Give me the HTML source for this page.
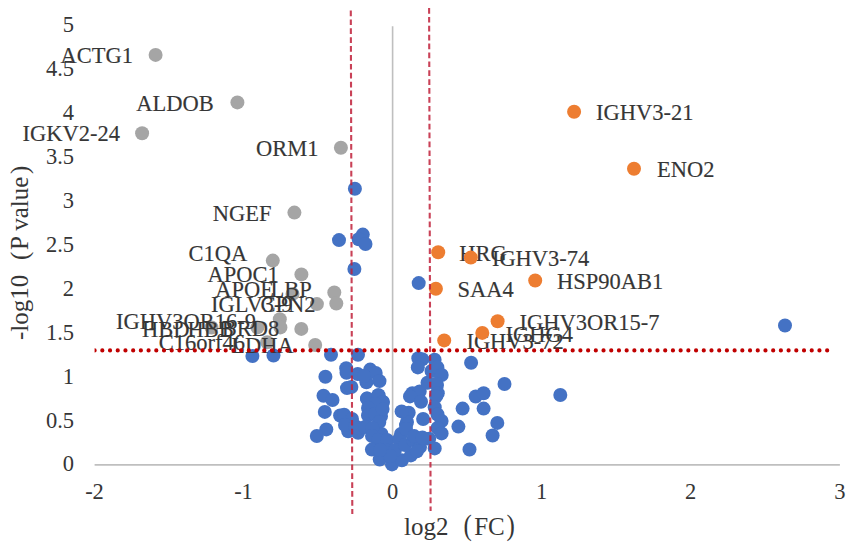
<!DOCTYPE html>
<html><head><meta charset="utf-8"><style>
html,body{margin:0;padding:0;background:#fff;}
body{width:851px;height:548px;position:relative;overflow:hidden;}
</style></head><body>
<svg width="851" height="548" viewBox="0 0 851 548" style="position:absolute;left:0;top:0">
<rect width="851" height="548" fill="#fff"/>
<line x1="94.6" y1="464.8" x2="839.9" y2="464.8" stroke="#BFBFBF" stroke-width="1.8"/>
<line x1="392.6" y1="26.3" x2="392.6" y2="464.8" stroke="#BFBFBF" stroke-width="1.6"/>
<g font-family="Liberation Serif" font-size="22.5" fill="#363636">
<text x="74.0" y="471.4" text-anchor="end">0</text>
<text x="74.0" y="427.5" text-anchor="end">0.5</text>
<text x="74.0" y="383.6" text-anchor="end">1</text>
<text x="74.0" y="339.7" text-anchor="end">1.5</text>
<text x="74.0" y="295.8" text-anchor="end">2</text>
<text x="74.0" y="251.9" text-anchor="end">2.5</text>
<text x="74.0" y="208.0" text-anchor="end">3</text>
<text x="74.0" y="164.1" text-anchor="end">3.5</text>
<text x="74.0" y="120.2" text-anchor="end">4</text>
<text x="74.0" y="76.3" text-anchor="end">4.5</text>
<text x="74.0" y="32.4" text-anchor="end">5</text>
<text x="94.5" y="499.1" text-anchor="middle">-2</text>
<text x="243.5" y="499.1" text-anchor="middle">-1</text>
<text x="392.6" y="499.1" text-anchor="middle">0</text>
<text x="541.7" y="499.1" text-anchor="middle">1</text>
<text x="690.7" y="499.1" text-anchor="middle">2</text>
<text x="839.8" y="499.1" text-anchor="middle">3</text>
</g>
<g fill="#4472C4">
<circle cx="354.9" cy="188.8" r="7.0"/>
<circle cx="339.0" cy="240.1" r="7.0"/>
<circle cx="362.8" cy="234.6" r="7.0"/>
<circle cx="358.7" cy="239.2" r="7.0"/>
<circle cx="365.5" cy="244.0" r="7.0"/>
<circle cx="354.4" cy="269.0" r="7.0"/>
<circle cx="418.7" cy="283.1" r="7.0"/>
<circle cx="785.0" cy="325.5" r="7.0"/>
<circle cx="560.3" cy="395.0" r="7.0"/>
<circle cx="331.0" cy="354.8" r="7.0"/>
<circle cx="358.0" cy="354.8" r="7.0"/>
<circle cx="252.4" cy="356.0" r="7.0"/>
<circle cx="273.5" cy="355.5" r="7.0"/>
<circle cx="418.3" cy="358.3" r="7.0"/>
<circle cx="422.2" cy="359.2" r="7.0"/>
<circle cx="417.8" cy="367.4" r="7.0"/>
<circle cx="434.6" cy="359.7" r="7.0"/>
<circle cx="471.1" cy="362.8" r="7.0"/>
<circle cx="504.5" cy="384.0" r="7.0"/>
<circle cx="346.2" cy="368.2" r="7.0"/>
<circle cx="346.5" cy="372.8" r="7.0"/>
<circle cx="325.4" cy="376.7" r="7.0"/>
<circle cx="347.0" cy="388.1" r="7.0"/>
<circle cx="351.4" cy="387.0" r="7.0"/>
<circle cx="323.5" cy="395.8" r="7.0"/>
<circle cx="332.5" cy="400.0" r="7.0"/>
<circle cx="324.8" cy="411.9" r="7.0"/>
<circle cx="340.1" cy="415.5" r="7.0"/>
<circle cx="326.3" cy="429.4" r="7.0"/>
<circle cx="316.8" cy="436.0" r="7.0"/>
<circle cx="357.7" cy="374.0" r="7.0"/>
<circle cx="370.2" cy="369.6" r="7.0"/>
<circle cx="375.7" cy="372.9" r="7.0"/>
<circle cx="379.5" cy="381.1" r="7.0"/>
<circle cx="366.4" cy="382.2" r="7.0"/>
<circle cx="364" cy="376" r="7.0"/>
<circle cx="367.0" cy="398.6" r="7.0"/>
<circle cx="378.4" cy="395.3" r="7.0"/>
<circle cx="382.8" cy="401.9" r="7.0"/>
<circle cx="412.3" cy="393.2" r="7.0"/>
<circle cx="419.7" cy="391.5" r="7.0"/>
<circle cx="427.5" cy="382.7" r="7.0"/>
<circle cx="431.5" cy="371" r="7.0"/>
<circle cx="437.0" cy="385.0" r="7.0"/>
<circle cx="437.8" cy="393.2" r="7.0"/>
<circle cx="437.4" cy="367.4" r="7.0"/>
<circle cx="441.7" cy="375.0" r="7.0"/>
<circle cx="436.3" cy="383.8" r="7.0"/>
<circle cx="436.8" cy="393.6" r="7.0"/>
<circle cx="475.7" cy="396.5" r="7.0"/>
<circle cx="483.6" cy="393.2" r="7.0"/>
<circle cx="462.6" cy="408.6" r="7.0"/>
<circle cx="483.6" cy="408.6" r="7.0"/>
<circle cx="497.3" cy="422.9" r="7.0"/>
<circle cx="458.4" cy="426.6" r="7.0"/>
<circle cx="492.6" cy="435.5" r="7.0"/>
<circle cx="469.5" cy="449.5" r="7.0"/>
<circle cx="436.1" cy="396.4" r="7.0"/>
<circle cx="434.7" cy="407.3" r="7.0"/>
<circle cx="437.5" cy="414.5" r="7.0"/>
<circle cx="441.6" cy="421.0" r="7.0"/>
<circle cx="437.5" cy="428.0" r="7.0"/>
<circle cx="441.6" cy="433.4" r="7.0"/>
<circle cx="429.2" cy="438.8" r="7.0"/>
<circle cx="434.7" cy="448.4" r="7.0"/>
<circle cx="408.7" cy="412.8" r="7.0"/>
<circle cx="406.0" cy="425.1" r="7.0"/>
<circle cx="410.0" cy="396.4" r="7.0"/>
<circle cx="421.0" cy="401.8" r="7.0"/>
<circle cx="423.1" cy="419.0" r="7.0"/>
<circle cx="367.0" cy="398.6" r="7.0"/>
<circle cx="378.4" cy="395.3" r="7.0"/>
<circle cx="382.8" cy="401.9" r="7.0"/>
<circle cx="375.0" cy="404.0" r="7.0"/>
<circle cx="368.0" cy="408.0" r="7.0"/>
<circle cx="368.0" cy="415.5" r="7.0"/>
<circle cx="381.0" cy="416.4" r="7.0"/>
<circle cx="375.0" cy="414.0" r="7.0"/>
<circle cx="382.6" cy="409.0" r="7.0"/>
<circle cx="379.3" cy="422.0" r="7.0"/>
<circle cx="381.5" cy="434.0" r="7.0"/>
<circle cx="401.0" cy="434.0" r="7.0"/>
<circle cx="407.0" cy="422.0" r="7.0"/>
<circle cx="401.6" cy="411.4" r="7.0"/>
<circle cx="344.1" cy="414.8" r="7.0"/>
<circle cx="352.0" cy="419.0" r="7.0"/>
<circle cx="348.2" cy="431.2" r="7.0"/>
<circle cx="358.1" cy="432.8" r="7.0"/>
<circle cx="345.0" cy="425.0" r="7.0"/>
<circle cx="355.0" cy="426.0" r="7.0"/>
<circle cx="359.0" cy="428.0" r="7.0"/>
<circle cx="365.0" cy="427.0" r="7.0"/>
<circle cx="372.4" cy="428.0" r="7.0"/>
<circle cx="372.0" cy="436.0" r="7.0"/>
<circle cx="378.0" cy="440.0" r="7.0"/>
<circle cx="387.0" cy="440.0" r="7.0"/>
<circle cx="399.0" cy="439.5" r="7.0"/>
<circle cx="406.0" cy="429.0" r="7.0"/>
<circle cx="371.9" cy="449.6" r="7.0"/>
<circle cx="379.7" cy="459.5" r="7.0"/>
<circle cx="392.0" cy="464.4" r="7.0"/>
<circle cx="401.9" cy="460.3" r="7.0"/>
<circle cx="410.9" cy="455.4" r="7.0"/>
<circle cx="385.0" cy="450.0" r="7.0"/>
<circle cx="395.0" cy="450.0" r="7.0"/>
<circle cx="405.0" cy="445.0" r="7.0"/>
<circle cx="390.0" cy="456.0" r="7.0"/>
<circle cx="380.0" cy="450.0" r="7.0"/>
<circle cx="413.0" cy="440.0" r="7.0"/>
<circle cx="420.0" cy="447.0" r="7.0"/>
<circle cx="414.2" cy="436.1" r="7.0"/>
<circle cx="422.4" cy="437.5" r="7.0"/>
<circle cx="416.9" cy="451.2" r="7.0"/>
</g>
<g fill="#A5A5A5">
<circle cx="155.6" cy="54.9" r="7.0"/>
<circle cx="237.4" cy="102.4" r="7.0"/>
<circle cx="142.1" cy="133.2" r="7.0"/>
<circle cx="340.9" cy="147.8" r="7.0"/>
<circle cx="294.4" cy="212.6" r="7.0"/>
<circle cx="272.8" cy="260.6" r="7.0"/>
<circle cx="301.4" cy="274.4" r="7.0"/>
<circle cx="334.3" cy="292.5" r="7.0"/>
<circle cx="336.3" cy="303.5" r="7.0"/>
<circle cx="292.5" cy="293.9" r="7.0"/>
<circle cx="316.9" cy="304.1" r="7.0"/>
<circle cx="279.8" cy="319.2" r="7.0"/>
<circle cx="280.4" cy="327.4" r="7.0"/>
<circle cx="257.4" cy="327.4" r="7.0"/>
<circle cx="301.3" cy="328.9" r="7.0"/>
<circle cx="315.2" cy="345.0" r="7.0"/>
<circle cx="267.2" cy="342.2" r="7.0"/>
<circle cx="211.5" cy="327.5" r="7.0"/>
</g>
<g font-family="Liberation Serif" font-size="22.5" fill="#363636" stroke="#363636" stroke-width="0.15">
<text x="132.9" y="63.2" text-anchor="end" transform="translate(0 63.2) scale(1 1.03) translate(0 -63.2)">ACTG1</text>
<text x="213.7" y="110.7" text-anchor="end" transform="translate(0 110.7) scale(1 1.03) translate(0 -110.7)">ALDOB</text>
<text x="120.0" y="141.5" text-anchor="end" transform="translate(0 141.5) scale(1 1.03) translate(0 -141.5)">IGKV2-24</text>
<text x="318.4" y="155.6" text-anchor="end" transform="translate(0 155.6) scale(1 1.03) translate(0 -155.6)">ORM1</text>
<text x="271.5" y="220.9" text-anchor="end" transform="translate(0 220.9) scale(1 1.03) translate(0 -220.9)">NGEF</text>
<text x="188.6" y="260.6" text-anchor="start" transform="translate(0 260.6) scale(1 1.03) translate(0 -260.6)">C1QA</text>
<text x="207.6" y="282.3" text-anchor="start" transform="translate(0 282.3) scale(1 1.03) translate(0 -282.3)">APOC1</text>
<text x="215.3" y="297.5" text-anchor="start" transform="translate(0 297.5) scale(1 1.03) translate(0 -297.5)">APOE</text>
<text x="311.8" y="297.5" text-anchor="end" transform="translate(0 297.5) scale(1 1.03) translate(0 -297.5)">LBP</text>
<text x="211.0" y="312.0" text-anchor="start" transform="translate(0 312.0) scale(1 1.03) translate(0 -312.0)">IGLV3-9</text>
<text x="260.5" y="312.0" text-anchor="start" transform="translate(0 312.0) scale(1 1.03) translate(0 -312.0)">CPN2</text>
<text x="116.0" y="328.8" text-anchor="start" transform="translate(0 328.8) scale(1 1.03) translate(0 -328.8)">IGHV3OR16-9</text>
<text x="142.0" y="336.7" text-anchor="start" transform="translate(0 336.7) scale(1 1.03) translate(0 -336.7)">HBD</text>
<text x="187.5" y="336.7" text-anchor="start" transform="translate(0 336.7) scale(1 1.03) translate(0 -336.7)">HBB</text>
<text x="221.7" y="335.8" text-anchor="start" transform="translate(0 335.8) scale(1 1.03) translate(0 -335.8)">BRD8</text>
<text x="158.8" y="349.8" text-anchor="start" transform="translate(0 349.8) scale(1 1.03) translate(0 -349.8)">C16orf46</text>
<text x="231.3" y="353.3" text-anchor="start" transform="translate(0 353.3) scale(1 1.03) translate(0 -353.3)">LDHA</text>
</g>
<circle cx="444.2" cy="340.4" r="7.0" fill="#ED7D31"/>
<text x="466.4" y="348.8" font-family="Liberation Serif" font-size="22.5" fill="#363636" stroke="#363636" stroke-width="0.15" transform="translate(0 348.8) scale(1 1.03) translate(0 -348.8)">IGHV3-72</text>
<circle cx="482.3" cy="332.9" r="7.0" fill="#ED7D31"/>
<text x="505.5" y="341.70000000000005" font-family="Liberation Serif" font-size="22.5" fill="#363636" stroke="#363636" stroke-width="0.15" transform="translate(0 341.70000000000005) scale(1 1.03) translate(0 -341.70000000000005)">IGHG4</text>
<circle cx="497.6" cy="321.2" r="7.0" fill="#ED7D31"/>
<text x="519.5" y="330.0" font-family="Liberation Serif" font-size="22.5" fill="#363636" stroke="#363636" stroke-width="0.15" transform="translate(0 330.0) scale(1 1.03) translate(0 -330.0)">IGHV3OR15-7</text>
<circle cx="435.9" cy="288.7" r="7.0" fill="#ED7D31"/>
<text x="457.6" y="297.3" font-family="Liberation Serif" font-size="22.5" fill="#363636" stroke="#363636" stroke-width="0.15" transform="translate(0 297.3) scale(1 1.03) translate(0 -297.3)">SAA4</text>
<circle cx="438.2" cy="252.2" r="7.0" fill="#ED7D31"/>
<text x="459.3" y="261.20000000000005" font-family="Liberation Serif" font-size="22.5" fill="#363636" stroke="#363636" stroke-width="0.15" transform="translate(0 261.20000000000005) scale(1 1.03) translate(0 -261.20000000000005)">HRG</text>
<circle cx="470.8" cy="257.6" r="7.0" fill="#ED7D31"/>
<text x="491.9" y="265.90000000000003" font-family="Liberation Serif" font-size="22.5" fill="#363636" stroke="#363636" stroke-width="0.15" transform="translate(0 265.90000000000003) scale(1 1.03) translate(0 -265.90000000000003)">IGHV3-74</text>
<circle cx="535.2" cy="280.5" r="7.0" fill="#ED7D31"/>
<text x="556.9" y="289.20000000000005" font-family="Liberation Serif" font-size="22.5" fill="#363636" stroke="#363636" stroke-width="0.15" transform="translate(0 289.20000000000005) scale(1 1.03) translate(0 -289.20000000000005)">HSP90AB1</text>
<circle cx="574.1" cy="111.7" r="7.0" fill="#ED7D31"/>
<text x="596.0" y="120.1" font-family="Liberation Serif" font-size="22.5" fill="#363636" stroke="#363636" stroke-width="0.15" transform="translate(0 120.1) scale(1 1.03) translate(0 -120.1)">IGHV3-21</text>
<circle cx="634.0" cy="168.8" r="7.0" fill="#ED7D31"/>
<text x="657.0" y="177.4" font-family="Liberation Serif" font-size="22.5" fill="#363636" stroke="#363636" stroke-width="0.15" transform="translate(0 177.4) scale(1 1.03) translate(0 -177.4)">ENO2</text>
<g font-family="Liberation Serif" font-size="25" fill="#363636">
<text x="404" y="535.4">log2</text>
<text x="463.5" y="535.4" transform="translate(463.5 535.4) scale(1 1.15) translate(-463.5 -535.4)">(</text>
<text x="474.2" y="535.4">FC</text>
<text x="506.5" y="535.4" transform="translate(506.5 535.4) scale(1 1.15) translate(-506.5 -535.4)">)</text>
</g>
<g font-family="Liberation Serif" font-size="25" fill="#363636" transform="translate(28.1 340) rotate(-90)">
<text x="0" y="0">-log10</text>
<text x="80" y="0">(</text>
<text x="90" y="0">P value</text>
<text x="166" y="0">)</text>
</g>
<defs><clipPath id="cl"><rect x="94.6" y="0" width="760" height="548"/></clipPath></defs>
<line x1="94.6" y1="350.4" x2="834.5" y2="350.4" stroke="#C00000" stroke-width="4.2" stroke-linecap="round" stroke-dasharray="0.01 7.701" clip-path="url(#cl)"/>
<line x1="350.8" y1="10.5" x2="352.3" y2="514" stroke="#C0203A" stroke-opacity="0.85" stroke-width="2.1" stroke-dasharray="5.7 3.2"/>
<line x1="429.1" y1="8" x2="430.6" y2="511" stroke="#C0203A" stroke-opacity="0.85" stroke-width="2.1" stroke-dasharray="5.7 3.2"/>
</svg>
</body></html>
